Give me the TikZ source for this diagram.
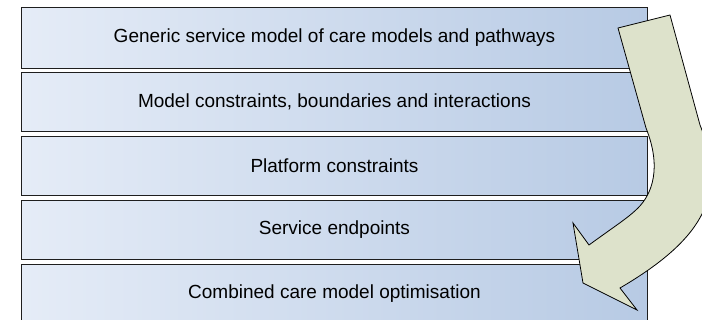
\documentclass[tikz,border=0pt]{standalone}
\usepackage{fontspec}
\setmainfont{Liberation Sans}
\definecolor{boxleft}{RGB}{229,236,247}
\definecolor{boxright}{RGB}{183,202,228}
\definecolor{arrowfill}{RGB}{221,226,203}
\definecolor{edge}{RGB}{30,30,30}
\begin{document}
\begin{tikzpicture}[x=1pt,y=-1pt,
  layer/.style={draw=edge,line width=0.9pt,left color=boxleft,right color=boxright,
    minimum width=626pt,inner sep=0pt,anchor=north west,
    font=\fontsize{19}{22}\selectfont},
  bigarrow/.style={draw=black,line width=0.8pt,fill=arrowfill,line join=miter}]
\useasboundingbox (0,0) rectangle (702,320);
\clip (0,0) rectangle (702,320);
\node[layer,minimum height=60.2pt] (b1) at (21,7.5) {Generic service model of care models and pathways};
\node[layer,minimum height=59.3pt] (b2) at (21,71.7) {Model constraints, boundaries and interactions};
\node[layer,minimum height=59.3pt] (b3) at (21,135.7) {Platform constraints};
\node[layer,minimum height=59pt] (b4) at (21,200) {Service endpoints};
\node[layer,minimum height=59pt] (b5) at (21,264) {Combined care model optimisation};
\draw[bigarrow] (618,28) -- (670,15) -- (700,125)
  .. controls (727,192) and (707,237) .. (620,288)
  -- (637,310) -- (583,283) -- (573,223) -- (589,245)
  .. controls (615,226) and (628,218) .. (638,208)
  .. controls (652,194) and (662,168) .. (646,128) -- cycle;
\end{tikzpicture}
\end{document}
